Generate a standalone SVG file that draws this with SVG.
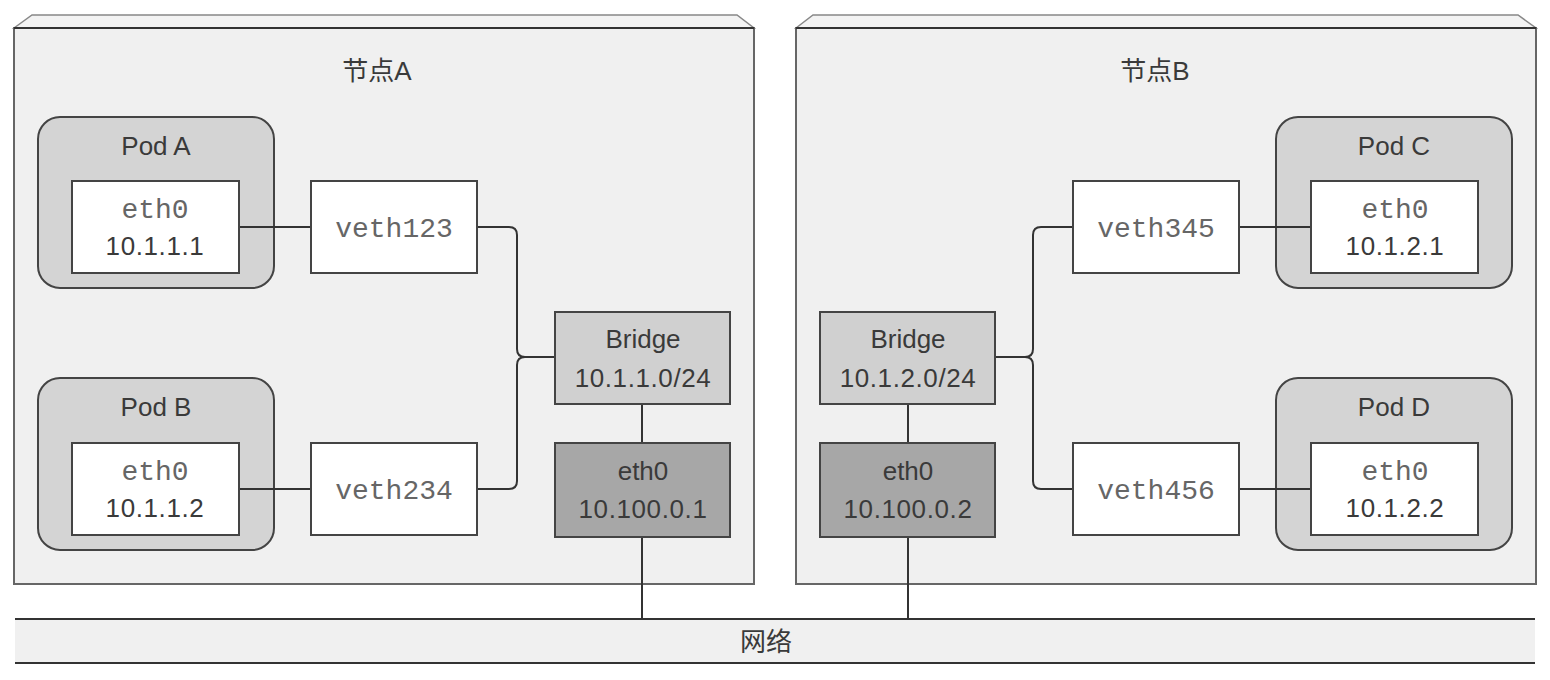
<svg xmlns="http://www.w3.org/2000/svg" width="1550" height="680" viewBox="0 0 1550 680">
<defs>
<style>
.hostface{fill:#f0f0f0;stroke:#666;stroke-width:2}
.hosttop{fill:#f3f3f3;stroke:#888;stroke-width:1.5}
.front{fill:none;stroke:#333;stroke-width:2}
.pod{fill:#d4d4d4;stroke:#444;stroke-width:2}
.box{fill:#fff;stroke:#444;stroke-width:2}
.bridge{fill:#d0d0d0;stroke:#444;stroke-width:2}
.nic{fill:#a7a7a7;stroke:#444;stroke-width:2}
.net{fill:#f0f0f0;stroke:none}
.netline{stroke:#333;stroke-width:2}
.wire{fill:none;stroke:#333;stroke-width:2}
.sans{font-family:"Liberation Sans",Arial,sans-serif;font-size:26px;fill:#3a3a3a;text-anchor:middle}
.num{letter-spacing:0.6px}
.mono{font-family:"Liberation Mono","Courier New",monospace;font-size:28px;fill:#666;text-anchor:middle}
.cjk{font-family:"Liberation Sans","Noto Sans CJK SC",sans-serif;font-size:26px;fill:#3a3a3a;text-anchor:middle}
</style>
</defs>
<rect width="1550" height="680" fill="#fff"/>

<g id="network">
<rect class="net" x="15" y="619" width="1520" height="44"/>
<line class="netline" x1="15" y1="619" x2="1535" y2="619"/>
<line class="netline" x1="15" y1="663" x2="1535" y2="663"/>
<text class="cjk" x="766" y="651">网络</text>
</g>

<g id="nodeA">
<polygon class="hosttop" points="14,28 32,15 737,15 754,28"/>
<rect class="hostface" x="14" y="28" width="740" height="556"/>
<line class="front" x1="14" y1="28" x2="754" y2="28"/>
<text class="cjk" x="377" y="80">节点A</text>
</g>

<g id="nodeB">
<polygon class="hosttop" points="796,28 813,15 1518,15 1536,28"/>
<rect class="hostface" x="796" y="28" width="740" height="556"/>
<line class="front" x1="796" y1="28" x2="1536" y2="28"/>
<text class="cjk" x="1155" y="80">节点B</text>
</g>

<g id="podA">
<rect class="pod" x="38" y="117" width="236" height="171" rx="22"/>
<text class="sans" x="156" y="155">Pod A</text>
</g>
<g id="podB">
<rect class="pod" x="38" y="378" width="236" height="172" rx="22"/>
<text class="sans" x="156" y="416">Pod B</text>
</g>
<g id="podC">
<rect class="pod" x="1276" y="117" width="236" height="171" rx="22"/>
<text class="sans" x="1394" y="155">Pod C</text>
</g>
<g id="podD">
<rect class="pod" x="1276" y="378" width="236" height="172" rx="22"/>
<text class="sans" x="1394" y="416">Pod D</text>
</g>

<g id="connectors">
<line class="wire" x1="239" y1="227" x2="311" y2="227"/>
<line class="wire" x1="239" y1="489" x2="311" y2="489"/>
<path class="wire" d="M477,227 H509 Q517,227 517,235 V349 Q517,357 525,357 H555"/>
<path class="wire" d="M477,489 H509 Q517,489 517,481 V365 Q517,357 525,357"/>
<line class="wire" x1="642" y1="404" x2="642" y2="443"/>
<line class="wire" x1="642" y1="537" x2="642" y2="619"/>
<line class="wire" x1="1239" y1="227" x2="1311" y2="227"/>
<line class="wire" x1="1239" y1="489" x2="1311" y2="489"/>
<path class="wire" d="M1073,227 H1041 Q1033,227 1033,235 V349 Q1033,357 1025,357 H995"/>
<path class="wire" d="M1073,489 H1041 Q1033,489 1033,481 V365 Q1033,357 1025,357"/>
<line class="wire" x1="908" y1="404" x2="908" y2="443"/>
<line class="wire" x1="908" y1="537" x2="908" y2="619"/>
</g>

<g id="podA-eth0">
<rect class="box" x="72" y="181" width="167" height="92"/>
<text class="mono" x="155" y="218">eth0</text>
<text class="sans num" x="155" y="255">10.1.1.1</text>
</g>
<g id="veth123">
<rect class="box" x="311" y="181" width="166" height="92"/>
<text class="mono" x="394" y="237">veth123</text>
</g>
<g id="podB-eth0">
<rect class="box" x="72" y="443" width="167" height="92"/>
<text class="mono" x="155" y="480">eth0</text>
<text class="sans num" x="155" y="517">10.1.1.2</text>
</g>
<g id="veth234">
<rect class="box" x="311" y="443" width="166" height="92"/>
<text class="mono" x="394" y="499">veth234</text>
</g>
<g id="bridgeA">
<rect class="bridge" x="555" y="312" width="175" height="92"/>
<text class="sans" x="643" y="348">Bridge</text>
<text class="sans num" x="643" y="387">10.1.1.0/24</text>
</g>
<g id="nodeA-eth0">
<rect class="nic" x="555" y="443" width="175" height="94"/>
<text class="sans" x="643" y="480">eth0</text>
<text class="sans num" x="643" y="518">10.100.0.1</text>
</g>

<g id="podC-eth0">
<rect class="box" x="1311" y="181" width="167" height="92"/>
<text class="mono" x="1395" y="218">eth0</text>
<text class="sans num" x="1395" y="255">10.1.2.1</text>
</g>
<g id="veth345">
<rect class="box" x="1073" y="181" width="166" height="92"/>
<text class="mono" x="1156" y="237">veth345</text>
</g>
<g id="podD-eth0">
<rect class="box" x="1311" y="443" width="167" height="92"/>
<text class="mono" x="1395" y="480">eth0</text>
<text class="sans num" x="1395" y="517">10.1.2.2</text>
</g>
<g id="veth456">
<rect class="box" x="1073" y="443" width="166" height="92"/>
<text class="mono" x="1156" y="499">veth456</text>
</g>
<g id="bridgeB">
<rect class="bridge" x="820" y="312" width="175" height="92"/>
<text class="sans" x="908" y="348">Bridge</text>
<text class="sans num" x="908" y="387">10.1.2.0/24</text>
</g>
<g id="nodeB-eth0">
<rect class="nic" x="820" y="443" width="175" height="94"/>
<text class="sans" x="908" y="480">eth0</text>
<text class="sans num" x="908" y="518">10.100.0.2</text>
</g>
</svg>
